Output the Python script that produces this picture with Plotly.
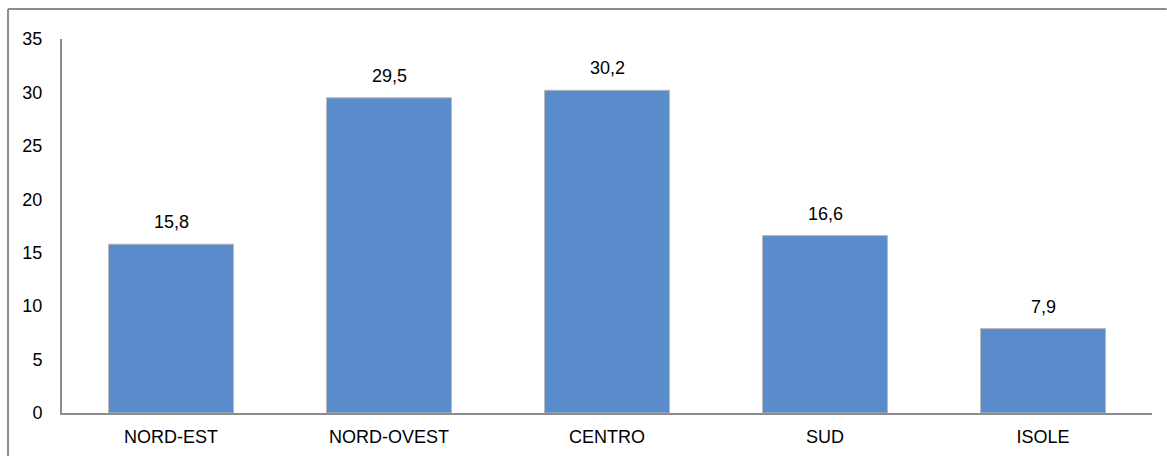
import plotly.graph_objects as go

regioni = ["NORD-EST", "NORD-OVEST", "CENTRO", "SUD", "ISOLE"]
valori = [15.8, 29.5, 30.2, 16.6, 7.9]

etichette = [f"{v:.1f}".replace(".", ",") for v in valori]

FONT = "Liberation Sans, Arial"
GRIGIO = "#8C8C8C"

fig = go.Figure()
fig.add_trace(go.Bar(
    x=regioni,
    y=valori,
    marker=dict(color="#5A8BCB", line=dict(color="#B8B8B8", width=1)),
    width=0.573,
    hoverinfo="skip",
))

# value labels above each bar
for r, v, t in zip(regioni, valori, etichette):
    fig.add_annotation(x=r, y=v, text=t, showarrow=False, yshift=22,
                       font=dict(family=FONT, size=18, color="#000000"))

# outer frame: left and top edges only
fig.add_shape(type="line", xref="paper", yref="paper",
              x0=-0.0495, x1=-0.0495, y0=-0.12, y1=1.0802,
              line=dict(color=GRIGIO, width=2))
fig.add_shape(type="line", xref="paper", yref="paper",
              x0=-0.0495, x1=1.0135, y0=1.0802, y1=1.0802,
              line=dict(color=GRIGIO, width=2))

fig.update_layout(
    width=1167, height=456,
    margin=dict(l=62, r=15, t=39, b=43, autoexpand=False),
    paper_bgcolor="white", plot_bgcolor="white",
    showlegend=False,
    font=dict(family=FONT, size=18, color="#000000"),
)
fig.update_xaxes(showline=True, linecolor=GRIGIO, linewidth=2,
                 ticks="", showgrid=False, ticklabelstandoff=6,
                 tickfont=dict(size=18), automargin=False)
fig.update_yaxes(range=[0, 35], dtick=5, showline=True, linecolor=GRIGIO,
                 linewidth=2, ticks="", showgrid=False, zeroline=False,
                 ticklabelstandoff=14, tickfont=dict(size=18), automargin=False)

fig.write_html("out.html", config={"displayModeBar": False})
